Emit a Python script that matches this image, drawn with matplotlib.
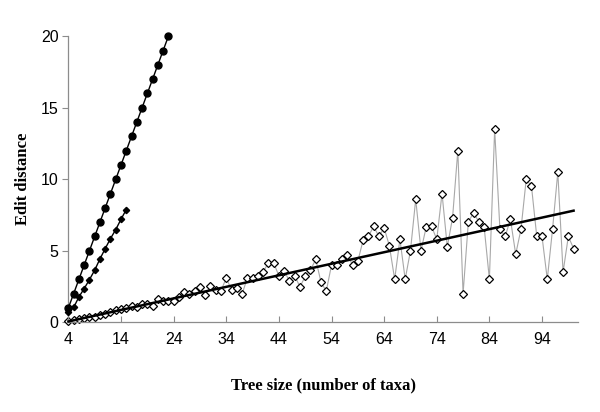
import numpy as np
import matplotlib.pyplot as plt

# series 1: filled circles (x = 4..23)
circ_x = np.arange(4, 24)
circ_y = [1, 2, 3, 4, 5, 6, 7, 8, 9, 10, 11, 12, 13, 14, 15, 16, 17, 18, 19, 20]

# series 2: small filled diamonds (x = 4..15)
fdia_x = np.arange(4, 16)
fdia_y = [0.72, 1.03, 1.77, 2.35, 2.98, 3.64, 4.43, 5.15, 5.85, 6.48, 7.2, 7.88]

# series 3: open diamonds (x = 4..100)
odia_x = np.arange(4, 101)
odia_y = [0.07, 0.14, 0.19, 0.26, 0.37, 0.37, 0.51, 0.58, 0.70, 0.84,
          0.89, 0.98, 1.12, 1.03, 1.26, 1.26, 1.12, 1.59, 1.49, 1.49,
          1.47, 1.75, 2.14, 1.97, 2.19, 2.47, 1.87, 2.5, 2.24, 2.19,
          3.1, 2.24, 2.42, 1.96, 3.08, 3.12, 3.2, 3.52, 4.15, 4.15,
          3.24, 3.6, 2.87, 3.26, 2.47, 3.2, 3.64, 4.4, 2.8, 2.17,
          4.0, 4.0, 4.4, 4.73, 4.0, 4.27, 5.73, 6.0, 6.7, 6.0,
          6.6, 5.33, 3.0, 5.8, 3.0, 5.0, 8.6, 5.0, 6.67, 6.7,
          5.8, 9.0, 5.27, 7.3, 12.0, 2.0, 7.0, 7.67, 7.0, 6.67,
          3.0, 13.5, 6.5, 6.0, 7.2, 4.75, 6.5, 10.0, 9.5, 6.0,
          6.0, 3.0, 6.5, 10.5, 3.5, 6.0, 5.15]

# linear trend for series 3
trend_x = [4, 100]
trend_y = [0.05, 7.8]

xticks = [4, 14, 24, 34, 44, 54, 64, 74, 84, 94]
yticks = [0, 5, 10, 15, 20]

fig = plt.figure(figsize=(6, 4.12), dpi=100)
ax = fig.add_axes([0.114, 0.218, 0.849, 0.694])

ax.plot(odia_x, odia_y, color='#a8a8a8', lw=0.8, marker='D', markersize=3.9,
        markerfacecolor='white', markeredgecolor='black', markeredgewidth=0.9,
        zorder=2, clip_on=False)
ax.plot(trend_x, trend_y, color='black', lw=1.8, zorder=3, clip_on=False)
ax.plot(fdia_x, fdia_y, color='black', lw=1, marker='D', markersize=3.2,
        zorder=4, clip_on=False)
ax.plot(circ_x, circ_y, color='black', lw=1, marker='o', markersize=5,
        zorder=4, clip_on=False)

ax.set_xlim(4, 100.8)
ax.set_ylim(0, 20)
ax.set_xticks(xticks)
ax.set_yticks(yticks)

for s in ['top', 'right']:
    ax.spines[s].set_visible(False)
for s in ['left', 'bottom']:
    ax.spines[s].set_color('#8c8c8c')
    ax.spines[s].set_linewidth(0.9)

ax.tick_params(axis='x', direction='in', length=4, color='#8c8c8c', pad=7)
ax.tick_params(axis='y', direction='out', length=4, color='#8c8c8c', pad=3)
for lab in ax.get_xticklabels() + ax.get_yticklabels():
    lab.set_fontfamily('Liberation Sans')
    lab.set_fontsize(11.5)

ax.set_xlabel('Tree size (number of taxa)', fontfamily='Liberation Serif',
              fontweight='bold', fontsize=12, labelpad=22)
ax.set_ylabel('Edit distance', fontfamily='Liberation Serif',
              fontweight='bold', fontsize=12, labelpad=7)

fig.savefig('out.png', dpi=100)
